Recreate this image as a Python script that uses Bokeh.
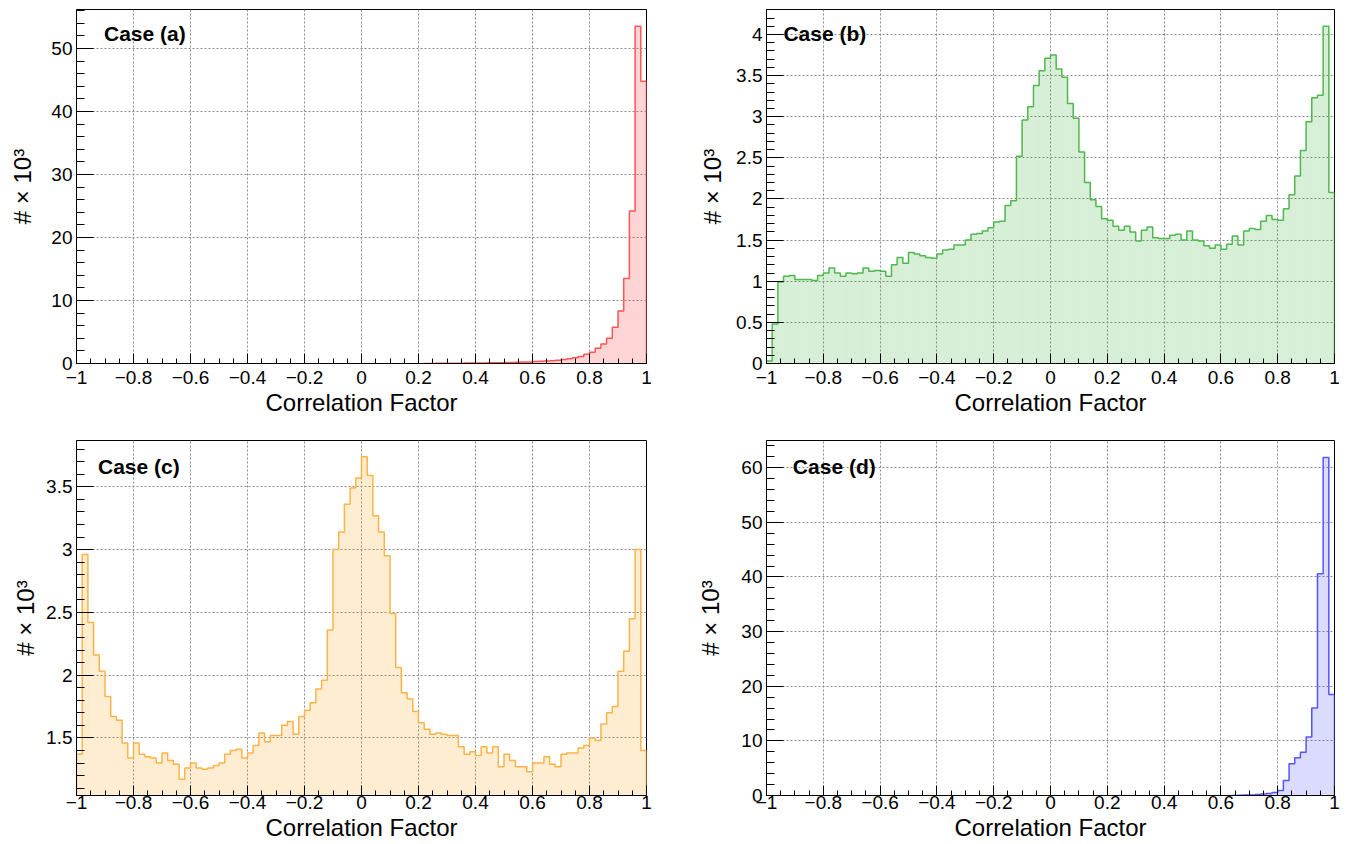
import numpy as np
from bokeh.plotting import figure
from bokeh.layouts import gridplot
from bokeh.models import (FixedTicker, CustomJSTickFormatter, Range1d, Label,
                          ColumnDataSource)
from bokeh.embed import file_html
from bokeh.resources import INLINE

# 100 bins of width 0.02 on [-1, 1]; contents in units of 10^3 entries
bin_edges = np.round(np.linspace(-1.0, 1.0, 101), 2)

case_a = [0.0] * 61 + [
    0.01, 0.015, 0.02, 0.025, 0.03, 0.04, 0.05, 0.06, 0.07,
    0.08, 0.09, 0.10, 0.12, 0.13, 0.15, 0.17, 0.19, 0.22, 0.25,
    0.30, 0.34, 0.38, 0.44, 0.52, 0.62, 0.74, 0.90, 1.10, 1.45,
    1.80, 2.42, 3.10, 4.00, 5.75, 8.33, 13.5, 24.2, 53.5, 44.8,
]

case_b = [
    0.03, 0.48, 0.99, 1.06, 1.07, 1.02, 1.02, 1.02, 1.01, 1.07,
    1.10, 1.16, 1.10, 1.06, 1.10, 1.09, 1.10, 1.16, 1.12, 1.13,
    1.12, 1.06, 1.20, 1.29, 1.22, 1.35, 1.33, 1.31, 1.29, 1.28,
    1.33, 1.38, 1.39, 1.44, 1.44, 1.50, 1.57, 1.58, 1.61, 1.65,
    1.72, 1.73, 1.92, 1.98, 2.52, 2.96, 3.12, 3.38, 3.56, 3.71,
    3.75, 3.58, 3.48, 3.16, 2.98, 2.57, 2.20, 1.99, 1.91, 1.76,
    1.74, 1.67, 1.62, 1.67, 1.60, 1.49, 1.62, 1.66, 1.53, 1.52,
    1.52, 1.56, 1.57, 1.50, 1.61, 1.50, 1.49, 1.43, 1.40, 1.44,
    1.39, 1.45, 1.55, 1.44, 1.61, 1.64, 1.63, 1.73, 1.80, 1.75,
    1.74, 1.88, 2.05, 2.28, 2.59, 2.94, 3.23, 3.26, 4.10, 2.08,
]

case_c = [
    1.37, 2.96, 2.42, 2.16, 2.03, 1.83, 1.67, 1.64, 1.46, 1.34,
    1.46, 1.37, 1.35, 1.34, 1.30, 1.38, 1.32, 1.29, 1.17, 1.26,
    1.30, 1.26, 1.25, 1.26, 1.28, 1.30, 1.37, 1.40, 1.41, 1.34,
    1.38, 1.44, 1.54, 1.47, 1.52, 1.52, 1.60, 1.63, 1.53, 1.67,
    1.72, 1.78, 1.89, 1.96, 2.36, 3.00, 3.14, 3.36, 3.49, 3.57,
    3.74, 3.59, 3.27, 3.14, 2.95, 2.49, 2.06, 1.86, 1.81, 1.71,
    1.62, 1.57, 1.53, 1.54, 1.53, 1.52, 1.52, 1.43, 1.37, 1.39,
    1.36, 1.43, 1.38, 1.43, 1.27, 1.37, 1.32, 1.27, 1.27, 1.23,
    1.30, 1.30, 1.35, 1.29, 1.27, 1.37, 1.38, 1.38, 1.42, 1.44,
    1.50, 1.48, 1.61, 1.70, 1.75, 2.03, 2.19, 2.45, 3.00, 1.40,
]

case_d = [0.0] * 82 + [
    0.02, 0.04, 0.07, 0.11, 0.17, 0.26, 0.38, 0.55,
    0.91, 2.74, 5.79, 6.89, 7.93, 10.73, 16.04, 40.61, 61.89, 18.48,
]

case_titles = ["Case (a)", "Case (b)", "Case (c)", "Case (d)"]
x_title = "Correlation Factor"
y_title = "# \u00d7 10\u00b3"

x_major = [round(-1 + 0.2 * i, 1) for i in range(11)]
x_minor = [round(-1 + 0.05 * i, 2) for i in range(41)]

FONT = "Liberation Sans"
W, H = 674, 422

tick_fmt = CustomJSTickFormatter(code="""
    const v = Number(tick.toFixed(3));
    const s = String(Math.abs(v));
    return v < 0 ? "\\u2212" + s : s;
""")

panels = [
    dict(vals=case_a, line="#ff5555", fill="#ff4d4d", alpha=0.24,
         ystep=10, yminor=2, border=(76, 28, 9, 59), y_stand=12,
         xl_stand=7, xt_stand=2, case_px=(27.5, 24)),
    dict(vals=case_b, line="#4fb84f", fill="#33b033", alpha=0.2,
         ystep=0.5, yminor=0.1, border=(89, 14, 9, 59), y_stand=7,
         xl_stand=7, xt_stand=2, case_px=(17, 24)),
    dict(vals=case_c, line="#ffb347", fill="#ffa31a", alpha=0.2,
         ystep=0.5, yminor=0.1, border=(76, 27, 18, 49), y_stand=4,
         xl_stand=0, xt_stand=2, case_px=(21.5, 26)),
    dict(vals=case_d, line="#5555ff", fill="#4d4dff", alpha=0.2,
         ystep=10, yminor=2, border=(92, 11, 18, 49), y_stand=14,
         xl_stand=0, xt_stand=2, case_px=(26.5, 26)),
]


def histogram_panel(spec, title):
    vals = np.asarray(spec["vals"], dtype=float)
    lo, hi = vals.min(), vals.max()
    margin = 0.05 * (hi - lo)
    y0 = lo - margin if lo - margin > 0 else 0.0
    y1 = hi + margin

    left, right, top, bottom = spec["border"]
    fw = W - left - right
    fh = H - top - bottom
    p = figure(width=W, height=H, x_range=Range1d(-1, 1), y_range=Range1d(y0, y1),
               output_backend="svg", toolbar_location=None,
               min_border_left=left, min_border_right=right,
               min_border_top=top, min_border_bottom=bottom)
    p.background_fill_color = "white"
    p.border_fill_color = "white"
    p.outline_line_color = "black"
    p.outline_line_width = 1

    # tick positions
    step = spec["ystep"]
    y_major = [round(k * step, 2) for k in range(int(np.ceil(y0 / step)), int(y1 // step) + 1)]
    ms = spec["yminor"]
    y_minor = [round(k * ms, 2) for k in range(int(np.ceil(y0 / ms)), int(y1 // ms) + 1)]

    p.xaxis.ticker = FixedTicker(ticks=x_major, minor_ticks=x_minor)
    p.yaxis.ticker = FixedTicker(ticks=y_major, minor_ticks=y_minor)
    p.xgrid.ticker = FixedTicker(ticks=x_major)
    p.ygrid.ticker = FixedTicker(ticks=y_major)
    for g in (p.xgrid, p.ygrid):
        g.grid_line_color = "#8a8a8a"
        g.grid_line_dash = "2 2"
        g.grid_line_width = 1

    for ax, maj, mnr in ((p.xaxis, 10, 5), (p.yaxis, 17, 8)):
        ax.formatter = tick_fmt
        ax.major_tick_in = maj
        ax.major_tick_out = 0
        ax.minor_tick_in = mnr
        ax.minor_tick_out = 0
        ax.axis_line_color = "black"
        ax.major_tick_line_color = "black"
        ax.minor_tick_line_color = "black"
        ax.major_label_text_font = FONT
        ax.major_label_text_font_size = "19px"
        ax.major_label_text_color = "black"
        ax.axis_label_text_font = FONT
        ax.axis_label_text_font_size = "24px"
        ax.axis_label_text_font_style = "normal"
        ax.axis_label_text_color = "black"

    p.xaxis.axis_label = x_title
    p.xaxis.major_label_standoff = spec["xl_stand"]
    p.xaxis.axis_label_standoff = spec["xt_stand"]
    p.yaxis.axis_label = y_title
    p.yaxis.major_label_standoff = 4
    p.yaxis.axis_label_standoff = spec["y_stand"]

    # filled bins
    src = ColumnDataSource(dict(left=bin_edges[:-1], right=bin_edges[1:], top=vals))
    p.quad(left="left", right="right", top="top", bottom=0, source=src,
           fill_color=spec["fill"], fill_alpha=spec["alpha"], line_color=None)

    # stepped outline, starting at the first populated bin
    first = int(np.argmax(vals > 0))
    e = bin_edges[first:]
    v = vals[first:]
    xs = np.repeat(e, 2)
    ys = np.concatenate([[0.0], np.repeat(v, 2), [0.0]])
    p.line(xs, ys, line_color=spec["line"], line_width=1.5)

    # case tag near the upper-left corner of the frame
    dx, dy = spec["case_px"]
    lx = -1 + dx / fw * 2.0
    ly = y1 - dy / fh * (y1 - y0)
    p.add_layout(Label(x=lx, y=ly, text=title, text_font=FONT,
                       text_font_size="21px", text_font_style="bold",
                       text_color="black", text_baseline="alphabetic"))
    return p


figs = [histogram_panel(s, t) for s, t in zip(panels, case_titles)]
grid = gridplot([[figs[0], figs[1]], [figs[2], figs[3]]], toolbar_location=None)

open("out.html", "w", encoding="utf-8").write(file_html(grid, INLINE))
